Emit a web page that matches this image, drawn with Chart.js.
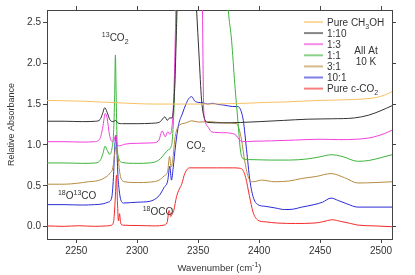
<!DOCTYPE html>
<html>
<head>
<meta charset="utf-8">
<script src="https://cdn.jsdelivr.net/npm/chart.js@4.4.1/dist/chart.umd.min.js"></script>
<style>
  html, body { margin: 0; padding: 0; background: #fff; }
</style>
</head>
<body>
<canvas id="chart" width="415" height="275"></canvas>
<script>
// spectra, wavenumber (cm-1) vs relative absorbance (offset per mixture)
const ch3ohWn  = [2226, 2240, 2255, 2270, 2285, 2300, 2315, 2330, 2345, 2360, 2375, 2390, 2405, 2420, 2435, 2450, 2465, 2478, 2488, 2496, 2503, 2509];
const ch3ohAbs = [1.545, 1.54, 1.535, 1.525, 1.515, 1.505, 1.50, 1.50, 1.50, 1.50, 1.505, 1.51, 1.52, 1.525, 1.535, 1.545, 1.55, 1.555, 1.565, 1.58, 1.61, 1.65];

const mix110Wn  = [2226, 2240, 2255, 2266, 2269.5, 2271.5, 2273.4, 2275.3, 2277.5, 2280, 2282.3, 2284, 2288, 2300, 2312, 2318.5, 2321.5, 2322.8, 2324.6, 2326.5, 2328.5, 2329.8, 2331, 2332.2, 2333.4, 2346.8, 2348.7, 2350.7, 2352.8, 2355.5, 2358, 2370, 2385, 2400, 2420, 2440, 2460, 2478, 2490, 2500, 2509];
const mix110Abs = [1.29, 1.29, 1.285, 1.29, 1.31, 1.38, 1.455, 1.40, 1.31, 1.285, 1.30, 1.27, 1.26, 1.26, 1.265, 1.28, 1.33, 1.345, 1.30, 1.33, 1.33, 1.45, 1.8, 2.4, 3.0, 3.2, 2.65, 2.1, 1.55, 1.31, 1.275, 1.27, 1.275, 1.285, 1.30, 1.315, 1.32, 1.33, 1.365, 1.42, 1.48];

const mix13Wn  = [2226, 2240, 2255, 2265, 2269.5, 2271.8, 2273.8, 2275.3, 2277.3, 2279.5, 2281.2, 2282.4, 2283.6, 2285.5, 2290, 2300, 2312, 2317.5, 2320.5, 2323, 2325, 2327, 2328.5, 2329.6, 2330.6, 2331.5, 2332.5, 2352.5, 2353.5, 2354.5, 2356, 2358.5, 2361, 2370, 2378, 2381, 2383.5, 2386, 2395, 2410, 2430, 2450, 2465, 2480, 2490, 2497, 2503, 2509];
const mix13Abs = [1.04, 1.04, 1.035, 1.04, 1.08, 1.22, 1.385, 1.33, 1.12, 1.04, 1.07, 1.12, 1.0, 0.99, 1.01, 1.02, 1.025, 1.05, 1.17, 1.10, 1.16, 1.13, 1.22, 1.45, 1.9, 2.5, 3.2, 3.2, 2.65, 1.45, 1.27, 1.21, 1.16, 1.15, 1.14, 1.12, 1.07, 1.04, 1.045, 1.05, 1.06, 1.07, 1.065, 1.07, 1.085, 1.11, 1.14, 1.18];

const mix11Wn  = [2226, 2240, 2255, 2266, 2270, 2272, 2273.6, 2275.5, 2277.5, 2279.2, 2280.6, 2281.5, 2282.1, 2282.8, 2283.6, 2285, 2288, 2300, 2310, 2316, 2319, 2322.8, 2325.5, 2327.5, 2329, 2330.5, 2331.8, 2333, 2372.5, 2374.7, 2377.4, 2380, 2383, 2384.3, 2385.6, 2388, 2395, 2410, 2425, 2440, 2450, 2459, 2468, 2481, 2490, 2500, 2509];
const mix11Abs = [0.78, 0.78, 0.775, 0.78, 0.82, 0.9, 0.985, 0.93, 0.885, 0.95, 1.15, 1.6, 2.1, 1.55, 1.0, 0.83, 0.785, 0.775, 0.78, 0.80, 0.83, 0.9, 0.94, 0.97, 1.1, 1.6, 2.4, 3.2, 3.2, 2.65, 2.28, 1.75, 1.22, 0.98, 0.86, 0.825, 0.82, 0.815, 0.815, 0.83, 0.855, 0.88, 0.86, 0.80, 0.81, 0.845, 0.88];

const mix31Wn  = [2226, 2240, 2250, 2260, 2268, 2274.5, 2278, 2280, 2281.3, 2282.3, 2283.2, 2284.3, 2285.5, 2287, 2290, 2300, 2310, 2318, 2322, 2325, 2326.5, 2327.8, 2329.2, 2330.8, 2332.5, 2335, 2340, 2345, 2350, 2360, 2370, 2381.5, 2383.5, 2385.6, 2388, 2391, 2395, 2402, 2413, 2425, 2435, 2447, 2459, 2470, 2481, 2495, 2509];
const mix31Abs = [0.52, 0.52, 0.53, 0.55, 0.565, 0.61, 0.66, 0.72, 0.86, 0.98, 0.9, 0.86, 0.68, 0.58, 0.55, 0.54, 0.545, 0.57, 0.62, 0.68, 0.86, 0.73, 0.82, 1.06, 1.19, 1.245, 1.27, 1.295, 1.28, 1.285, 1.27, 1.26, 1.2, 1.06, 0.82, 0.61, 0.55, 0.57, 0.55, 0.56, 0.59, 0.615, 0.65, 0.60, 0.535, 0.54, 0.55];

const mix101Wn  = [2226, 2240, 2255, 2265, 2272, 2276, 2279, 2280.5, 2281.5, 2282.5, 2283.3, 2284.2, 2285.2, 2286.5, 2289, 2300, 2310, 2318, 2322, 2325, 2326.7, 2328.1, 2329.5, 2331.5, 2334, 2337, 2340, 2342.5, 2344.8, 2347, 2350, 2354, 2358, 2362, 2366, 2370, 2374, 2378, 2382, 2384.5, 2387, 2389.7, 2392.4, 2395, 2399, 2405, 2413, 2421, 2428, 2435, 2445, 2452, 2459, 2465, 2472, 2481, 2495, 2509];
const mix101Abs = [0.27, 0.27, 0.265, 0.27, 0.28, 0.30, 0.35, 0.6, 0.95, 1.12, 0.95, 0.62, 0.45, 0.33, 0.29, 0.30, 0.31, 0.38, 0.48, 0.56, 0.74, 0.57, 0.72, 1.0, 1.25, 1.38, 1.5, 1.57, 1.59, 1.54, 1.52, 1.515, 1.50, 1.51, 1.495, 1.49, 1.48, 1.47, 1.47, 1.44, 1.30, 0.94, 0.57, 0.37, 0.27, 0.25, 0.23, 0.21, 0.215, 0.24, 0.27, 0.30, 0.35, 0.32, 0.28, 0.24, 0.24, 0.24];

const co2Wn  = [2226, 2240, 2252, 2265, 2275, 2279, 2280.8, 2282, 2283, 2283.8, 2284.6, 2285.5, 2286.4, 2288, 2300, 2315, 2322, 2324.5, 2326.2, 2327.5, 2328.6, 2330, 2332.3, 2334.5, 2336.5, 2339, 2343, 2350, 2365, 2378, 2384, 2386.8, 2389, 2392, 2395, 2399, 2405, 2415, 2430, 2445, 2452, 2460, 2467, 2475, 2481, 2495, 2509];
const co2Abs = [0.01, 0.005, 0.012, 0.005, 0.01, 0.02, 0.08, 0.35, 0.63, 0.30, 0.07, 0.16, 0.05, 0.02, 0.015, 0.01, 0.02, 0.05, 0.20, 0.125, 0.15, 0.20, 0.37, 0.46, 0.52, 0.65, 0.72, 0.72, 0.72, 0.72, 0.715, 0.69, 0.60, 0.38, 0.18, 0.08, 0.06, 0.045, 0.04, 0.045, 0.06, 0.085, 0.065, 0.04, 0.02, 0.01, 0.0];

const seriesNames  = ["Pure CH_{3}OH", "1:10", "1:3", "1:1", "3:1", "10:1", "Pure c-CO_{2}"];
const seriesColors = ["#f8c060", "#333333", "#f23ede", "#3cb43c", "#b58b3f", "#2a2ad8", "#f42828"];
const seriesWn  = [ch3ohWn, mix110Wn, mix13Wn, mix11Wn, mix31Wn, mix101Wn, co2Wn];
const seriesAbs = [ch3ohAbs, mix110Abs, mix13Abs, mix11Abs, mix31Abs, mix101Abs, co2Abs];

const xTickValues = [2250, 2300, 2350, 2400, 2450, 2500];
const yTickValues = [0, 0.5, 1.0, 1.5, 2.0, 2.5];

// band labels, placed at [wavenumber, absorbance] of text start / baseline
const bandLabels = [
  { text: "^{13}CO_{2}", wn: 2271, abs: 2.27 },
  { text: "CO_{2}", wn: 2340.5, abs: 0.955 },
  { text: "^{18}O^{13}CO", wn: 2235, abs: 0.335 },
  { text: "^{18}OCO", wn: 2304.5, abs: 0.138 }
];
const noteLines = ["All At", "10 K"];
const xTitle = "Wavenumber (cm^{-1})";
const yTitle = "Relative Absorbance";

const FONT = '"Liberation Sans", Arial, Helvetica, sans-serif';
const AXIS = "#444";

// draw text with ^{..} superscripts and _{..} subscripts
function drawRich(ctx, text, x, y, size, align) {
  const parts = [];
  const re = /([\^_])\{([^}]*)\}/g;
  let last = 0, m;
  while ((m = re.exec(text))) {
    if (m.index > last) parts.push({ t: text.slice(last, m.index), k: "" });
    parts.push({ t: m[2], k: m[1] });
    last = re.lastIndex;
  }
  if (last < text.length) parts.push({ t: text.slice(last), k: "" });

  const small = Math.round(size * 0.72);
  const fontFor = k => (k ? small : size) + "px " + FONT;
  let w = 0;
  parts.forEach(p => { ctx.font = fontFor(p.k); p.w = ctx.measureText(p.t).width; w += p.w; });
  let cx = align === "center" ? x - w / 2 : x;
  ctx.textAlign = "left";
  ctx.textBaseline = "alphabetic";
  parts.forEach(p => {
    ctx.font = fontFor(p.k);
    const dy = p.k === "^" ? -size * 0.42 : (p.k === "_" ? size * 0.3 : 0);
    ctx.fillText(p.t, cx, y + dy);
    cx += p.w;
  });
}

const textPlugin = {
  id: "textLayer",
  afterDraw(chart) {
    const ctx = chart.ctx;
    const area = chart.chartArea;
    const xs = chart.scales.x, ys = chart.scales.y;
    ctx.save();
    ctx.fillStyle = "#333";

    bandLabels.forEach(l => {
      drawRich(ctx, l.text, xs.getPixelForValue(l.wn), ys.getPixelForValue(l.abs), 10, "left");
    });

    // legend, top right inside the frame
    const lx = area.right - 88, ty = area.top + 12;
    seriesNames.forEach((name, i) => {
      const y = ty + i * 11.1;
      ctx.globalAlpha = 0.6;
      ctx.strokeStyle = seriesColors[i];
      ctx.lineWidth = 2;
      ctx.beginPath();
      ctx.moveTo(lx, y);
      ctx.lineTo(lx + 19, y);
      ctx.stroke();
      ctx.globalAlpha = 1;
      drawRich(ctx, name, lx + 23, y + 3.6, 10, "left");
    });
    noteLines.forEach((t, i) => {
      drawRich(ctx, t, area.right - 26, area.top + 43.6 + i * 11.5, 10, "center");
    });

    // axis titles
    drawRich(ctx, xTitle, (area.left + area.right) / 2, 271, 9.5, "center");
    ctx.translate(11, (area.top + area.bottom) / 2);
    ctx.rotate(-Math.PI / 2);
    drawRich(ctx, yTitle, 0, 3.2, 9, "center");
    ctx.restore();
  }
};

function frameScale(pos, min, max, size, ticks, showLabels, fmt) {
  return {
    type: "linear",
    position: pos,
    min: min,
    max: max,
    grid: { display: true, drawOnChartArea: false, drawTicks: true, tickLength: 4, color: AXIS, lineWidth: 1 },
    border: { display: true, color: AXIS, width: 1 },
    ticks: {
      display: showLabels,
      font: { family: FONT, size: 10 },
      color: "#333",
      padding: 2,
      maxRotation: 0,
      callback: fmt
    },
    afterBuildTicks: s => { s.ticks = ticks.map(v => ({ value: v })); },
    afterFit: s => {
      if (pos === "top" || pos === "bottom") s.height = size; else s.width = size;
    }
  };
}

const datasets = seriesNames.map((name, i) => ({
  label: name,
  data: seriesWn[i].map((w, j) => ({ x: w, y: seriesAbs[i][j] })),
  borderColor: seriesColors[i],
  borderWidth: 1,
  pointRadius: 0,
  cubicInterpolationMode: "monotone",
  fill: false
}));

new Chart(document.getElementById("chart"), {
  type: "line",
  data: { datasets: datasets },
  options: {
    responsive: false,
    animation: false,
    events: [],
    layout: { padding: 0 },
    plugins: { legend: { display: false }, tooltip: { enabled: false } },
    scales: {
      x:  frameScale("bottom", 2226, 2509, 36, xTickValues, true, v => String(v)),
      x2: frameScale("top", 2226, 2509, 10, xTickValues, false, v => ""),
      y:  frameScale("left", -0.15, 2.65, 47, yTickValues, true, v => v.toFixed(1)),
      y2: frameScale("right", -0.15, 2.65, 23, yTickValues, false, v => "")
    }
  },
  plugins: [textPlugin]
});
</script>
</body>
</html>
